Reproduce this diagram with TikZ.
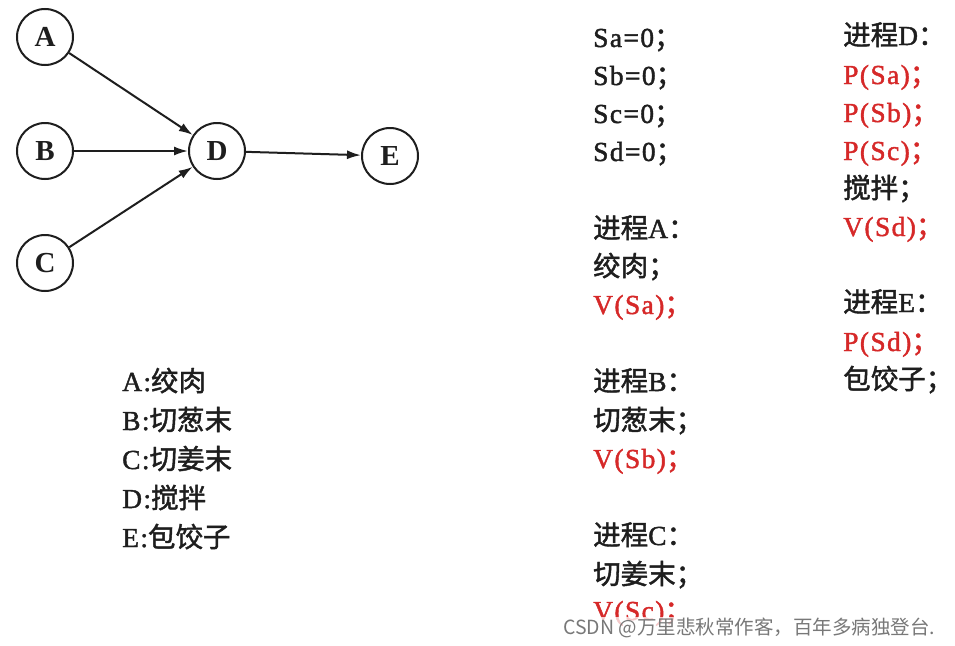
\documentclass[tikz,border=0pt]{standalone}
\usepackage{fontspec}
\setmainfont{Liberation Serif}
\newfontfamily\lat[FakeBold=1.5,LetterSpace=5]{Liberation Serif}
\newfontfamily\cjk[FakeBold=1.5]{Noto Sans CJK SC}
\newfontfamily\wmfont{Noto Sans CJK SC}
\usetikzlibrary{arrows.meta}
\definecolor{ink}{RGB}{30,30,30}
\definecolor{redink}{RGB}{214,40,40}
\definecolor{wm}{RGB}{120,120,120}
\newcommand\zh[1]{{\cjk #1}}
\tikzset{
  vertex/.style={circle,draw=ink,line width=2pt,minimum size=56pt,inner sep=0pt,font=\bfseries\fontsize{29}{29}\selectfont,text=ink},
  edge/.style={draw=ink,line width=2pt,-{Latex[length=14pt,width=9pt]}},
  line/.style={anchor=west,inner sep=0pt,text height=20pt,text depth=6pt,font=\lat\fontsize{27.5}{27.5}\selectfont,text=ink},
  redline/.style={line,text=redink},
  mark wm/.style={anchor=west,inner sep=1pt,font=\wmfont\fontsize{19.5}{19.5}\selectfont,text=wm,fill=white,fill opacity=0.75,text opacity=1}
}
\begin{document}
\begin{tikzpicture}[x=1pt,y=-1pt]
\useasboundingbox[fill=white] (0,0) rectangle (955,645);
% graph
\node[vertex] (A) at (45,37) {A};
\node[vertex] (B) at (45,151) {B};
\node[vertex] (C) at (45,263) {C};
\node[vertex] (D) at (217,151) {D};
\node[vertex] (E) at (390,156) {E};
\draw[edge] (A) -- (D);
\draw[edge] (B) -- (D);
\draw[edge] (C) -- (D);
\draw[edge] (D) -- (E);
% legend
\node[line] (la) at (122,384) {A:\zh{绞肉}};
\node[line] (lb) at (122,423) {B:\zh{切葱末}};
\node[line] (lc) at (122,462) {C:\zh{切姜末}};
\node[line] (ld) at (122,501) {D:\zh{搅拌}};
\node[line] (le) at (122,540) {E:\zh{包饺子}};
% column 1
\node[line] (s1) at (593,40) {Sa=0\zh{；}};
\node[line] (s2) at (593,78) {Sb=0\zh{；}};
\node[line] (s3) at (593,116) {Sc=0\zh{；}};
\node[line] (s4) at (593,154) {Sd=0\zh{；}};
\node[line] (pa1) at (593,231) {\zh{进程}A\zh{：}};
\node[line] (pa2) at (593,269) {\zh{绞肉；}};
\node[redline] (pa3) at (593,307) {V(Sa)\zh{；}};
\node[line] (pb1) at (593,384) {\zh{进程}B\zh{：}};
\node[line] (pb2) at (593,423) {\zh{切葱末；}};
\node[redline] (pb3) at (593,461) {V(Sb)\zh{；}};
\node[line] (pc1) at (593,538) {\zh{进程}C\zh{：}};
\node[line] (pc2) at (593,577) {\zh{切姜末；}};
\node[redline] (pc3) at (593,613) {V(Sc)\zh{；}};
% column 2
\node[line] (pd1) at (843,38) {\zh{进程}D\zh{：}};
\node[redline] (pd2) at (843,77) {P(Sa)\zh{；}};
\node[redline] (pd3) at (843,115) {P(Sb)\zh{；}};
\node[redline] (pd4) at (843,153) {P(Sc)\zh{；}};
\node[line] (pd5) at (843,191) {\zh{搅拌；}};
\node[redline] (pd6) at (843,229) {V(Sd)\zh{；}};
\node[line] (pe1) at (843,305) {\zh{进程}E\zh{：}};
\node[redline] (pe2) at (843,344) {P(Sd)\zh{；}};
\node[line] (pe3) at (843,382) {\zh{包饺子；}};
% watermark
\node[mark wm] (wmk) at (562,628) {CSDN @万里悲秋常作客，百年多病独登台.};
\end{tikzpicture}
\end{document}
